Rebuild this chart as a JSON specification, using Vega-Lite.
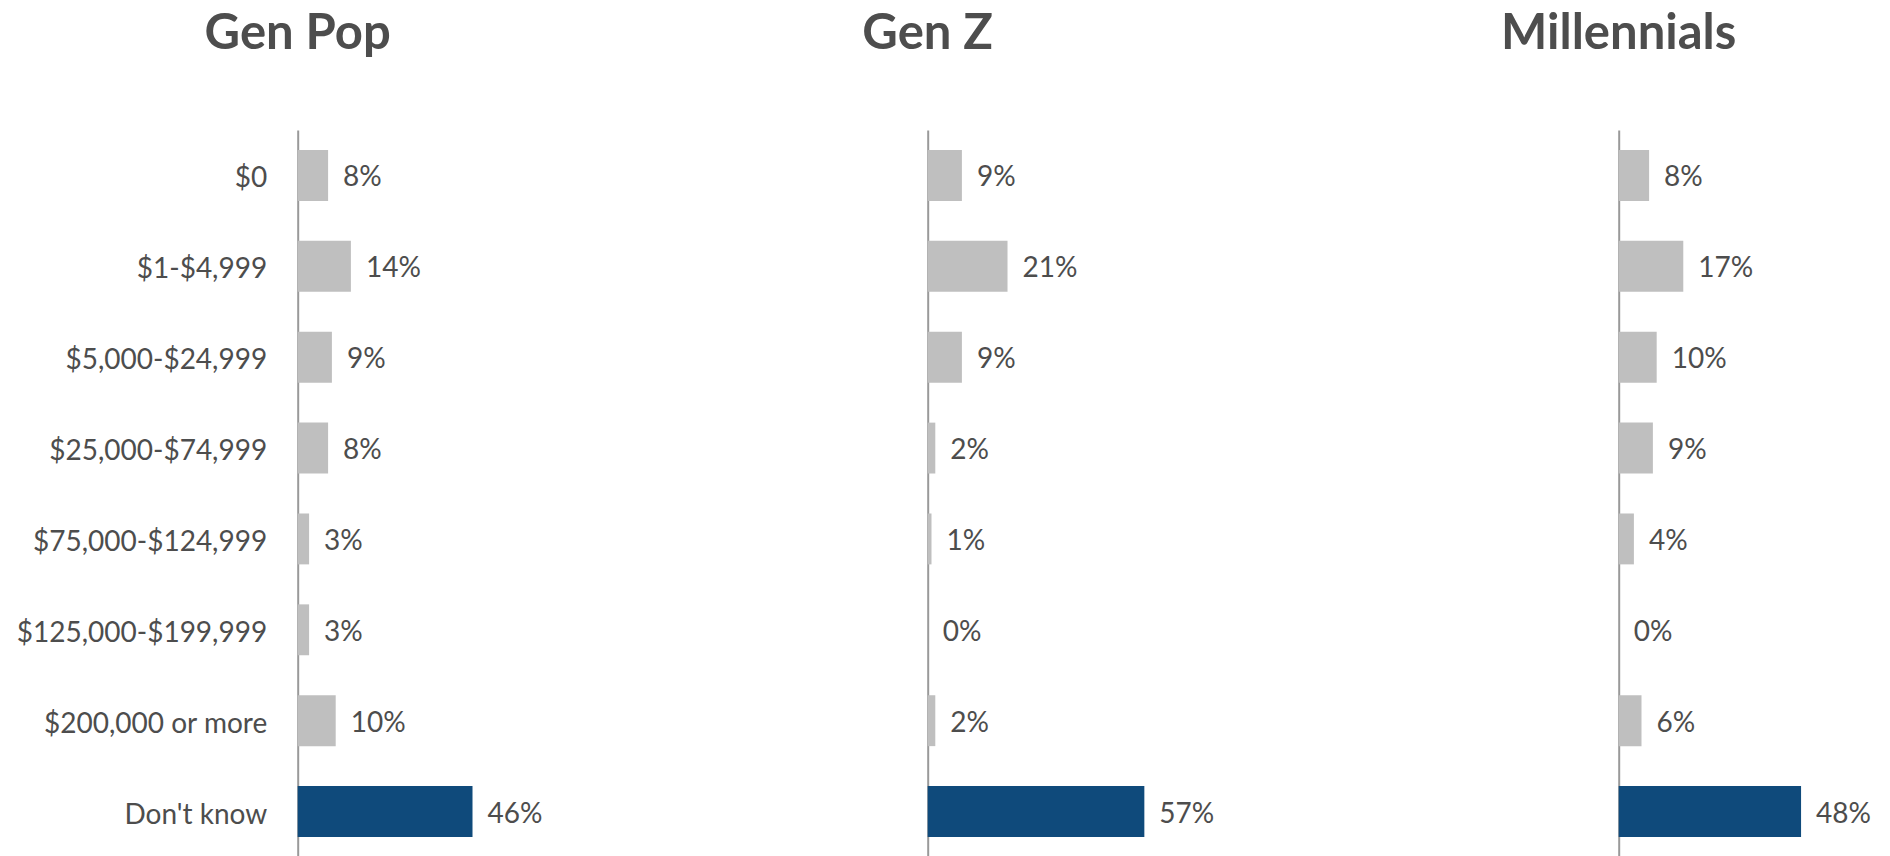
{
  "$schema": "https://vega.github.io/schema/vega-lite/v6.json",
  "autosize": {"type": "none"},
  "padding": {"left": 297.7, "top": 130, "right": 1592.3, "bottom": 726},
  "background": "white",
  "spacing": 0,
  "bounds": "flush",
  "config": {
    "view": {"stroke": null},
    "font": "Lato",
    "text": {"font": "Lato"}
  },
  "data": {
    "values": [
      {"group": "Gen Pop", "category": "$0", "value": 0.08},
      {"group": "Gen Pop", "category": "$1-$4,999", "value": 0.14},
      {"group": "Gen Pop", "category": "$5,000-$24,999", "value": 0.09},
      {"group": "Gen Pop", "category": "$25,000-$74,999", "value": 0.08},
      {"group": "Gen Pop", "category": "$75,000-$124,999", "value": 0.03},
      {"group": "Gen Pop", "category": "$125,000-$199,999", "value": 0.03},
      {"group": "Gen Pop", "category": "$200,000 or more", "value": 0.10},
      {"group": "Gen Pop", "category": "Don't know", "value": 0.46},
      {"group": "Gen Z", "category": "$0", "value": 0.09},
      {"group": "Gen Z", "category": "$1-$4,999", "value": 0.21},
      {"group": "Gen Z", "category": "$5,000-$24,999", "value": 0.09},
      {"group": "Gen Z", "category": "$25,000-$74,999", "value": 0.02},
      {"group": "Gen Z", "category": "$75,000-$124,999", "value": 0.01},
      {"group": "Gen Z", "category": "$125,000-$199,999", "value": 0.0},
      {"group": "Gen Z", "category": "$200,000 or more", "value": 0.02},
      {"group": "Gen Z", "category": "Don't know", "value": 0.57},
      {"group": "Millennials", "category": "$0", "value": 0.08},
      {"group": "Millennials", "category": "$1-$4,999", "value": 0.17},
      {"group": "Millennials", "category": "$5,000-$24,999", "value": 0.10},
      {"group": "Millennials", "category": "$25,000-$74,999", "value": 0.09},
      {"group": "Millennials", "category": "$75,000-$124,999", "value": 0.04},
      {"group": "Millennials", "category": "$125,000-$199,999", "value": 0.0},
      {"group": "Millennials", "category": "$200,000 or more", "value": 0.06},
      {"group": "Millennials", "category": "Don't know", "value": 0.48}
    ]
  },
  "hconcat": [
    {
      "width": 629.3,
      "height": 727,
      "transform": [{"filter": "datum.group === 'Gen Pop'"}],
      "title": {"text": "Gen Pop", "anchor": "start", "align": "center", "frame": "group", "font": "Lato", "fontSize": 49, "fontWeight": "bold", "color": "#4d4d4d", "baseline": "alphabetic", "offset": 32},
      "encoding": {
        "y": {"field": "category", "type": "nominal", "sort": ["$0", "$1-$4,999", "$5,000-$24,999", "$25,000-$74,999", "$75,000-$124,999", "$125,000-$199,999", "$200,000 or more", "Don't know"],
          "scale": {"paddingInner": 0.44, "paddingOuter": 0.22},
          "axis": {"title": null, "ticks": false, "grid": false, "domainColor": "#999999", "domainWidth": 2, "labelPadding": 31, "labelOffset": 4, "labelFont": "Lato", "labelFontSize": 28, "labelColor": "#4d4d4d", "labelLimit": 400}},
        "x": {"field": "value", "type": "quantitative", "scale": {"domain": [0, 1.656], "nice": false, "zero": true}, "axis": null}
      },
      "layer": [
        {"mark": {"type": "bar"}, "encoding": {"color": {"condition": {"test": "datum.category === \"Don't know\"", "value": "#0f4a7b"}, "value": "#bfbfbf"}}},
        {"mark": {"type": "text", "align": "left", "baseline": "middle", "dx": 15, "dy": 3, "fontSize": 28, "font": "Lato", "color": "#4d4d4d"}, "encoding": {"text": {"field": "value", "type": "quantitative", "format": ".0%"}}}
      ]
    },
    {
      "width": 690.6,
      "height": 727,
      "transform": [{"filter": "datum.group === 'Gen Z'"}],
      "title": {"text": "Gen Z", "anchor": "start", "align": "center", "frame": "group", "font": "Lato", "fontSize": 49, "fontWeight": "bold", "color": "#4d4d4d", "baseline": "alphabetic", "offset": 32},
      "encoding": {
        "y": {"field": "category", "type": "nominal", "sort": ["$0", "$1-$4,999", "$5,000-$24,999", "$25,000-$74,999", "$75,000-$124,999", "$125,000-$199,999", "$200,000 or more", "Don't know"],
          "scale": {"paddingInner": 0.44, "paddingOuter": 0.22},
          "axis": {"title": null, "labels": false, "ticks": false, "grid": false, "domainColor": "#999999", "domainWidth": 2}},
        "x": {"field": "value", "type": "quantitative", "scale": {"domain": [0, 1.817], "nice": false, "zero": true}, "axis": null}
      },
      "layer": [
        {"mark": {"type": "bar"}, "encoding": {"color": {"condition": {"test": "datum.category === \"Don't know\"", "value": "#0f4a7b"}, "value": "#bfbfbf"}}},
        {"mark": {"type": "text", "align": "left", "baseline": "middle", "dx": 15, "dy": 3, "fontSize": 28, "font": "Lato", "color": "#4d4d4d"}, "encoding": {"text": {"field": "value", "type": "quantitative", "format": ".0%"}}}
      ]
    },
    {
      "width": 272.4,
      "height": 727,
      "transform": [{"filter": "datum.group === 'Millennials'"}],
      "title": {"text": "Millennials", "anchor": "start", "align": "center", "frame": "group", "font": "Lato", "fontSize": 49, "fontWeight": "bold", "color": "#4d4d4d", "baseline": "alphabetic", "offset": 32},
      "encoding": {
        "y": {"field": "category", "type": "nominal", "sort": ["$0", "$1-$4,999", "$5,000-$24,999", "$25,000-$74,999", "$75,000-$124,999", "$125,000-$199,999", "$200,000 or more", "Don't know"],
          "scale": {"paddingInner": 0.44, "paddingOuter": 0.22},
          "axis": {"title": null, "labels": false, "ticks": false, "grid": false, "domainColor": "#999999", "domainWidth": 2}},
        "x": {"field": "value", "type": "quantitative", "scale": {"domain": [0, 0.717], "nice": false, "zero": true}, "axis": null}
      },
      "layer": [
        {"mark": {"type": "bar"}, "encoding": {"color": {"condition": {"test": "datum.category === \"Don't know\"", "value": "#0f4a7b"}, "value": "#bfbfbf"}}},
        {"mark": {"type": "text", "align": "left", "baseline": "middle", "dx": 15, "dy": 3, "fontSize": 28, "font": "Lato", "color": "#4d4d4d"}, "encoding": {"text": {"field": "value", "type": "quantitative", "format": ".0%"}}}
      ]
    }
  ]
}
